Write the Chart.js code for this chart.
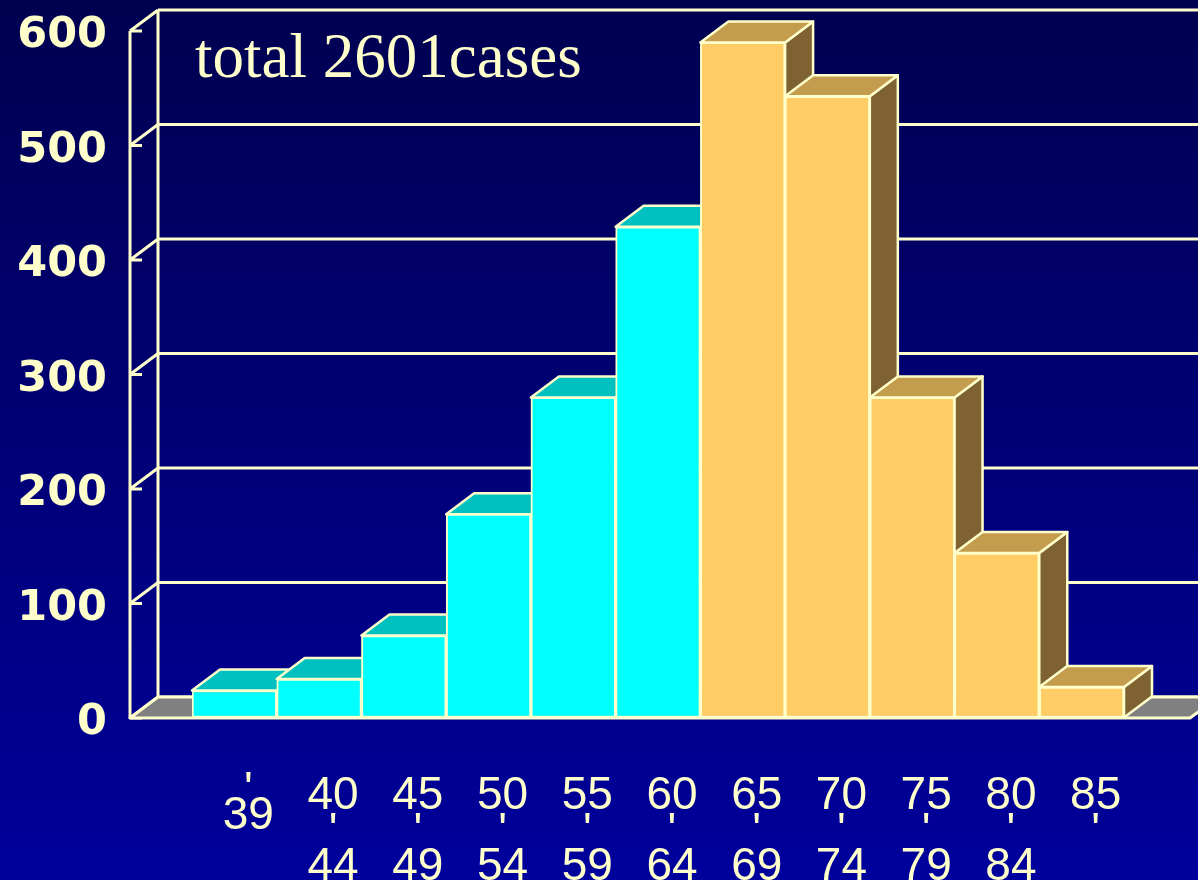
<!DOCTYPE html>
<html lang="en">
<head>
  <meta charset="UTF-8">
  <title>total 2601cases</title>
  <script src="https://cdn.jsdelivr.net/npm/chart.js"></script>
  <style>
    html, body { margin: 0; padding: 0; background: #000070; }
    #wrap { width: 1198px; height: 880px; }
  </style>
</head>
<body>
  <div id="wrap"><canvas id="ageChart" width="1198" height="880"></canvas></div>
  <script>
    // age groups (vertical style labels: number / tick / number)
    const ageLabels = [
      ["'", '39'], ['40', "'", '44'], ['45', "'", '49'], ['50', "'", '54'],
      ['55', "'", '59'], ['60', "'", '64'], ['65', "'", '69'], ['70', "'", '74'],
      ['75', "'", '79'], ['80', "'", '84'], ['85', "'"]
    ];
    const caseCounts = [24, 34, 72, 178, 280, 429, 590, 543, 280, 144, 27];
    const yTicks = [0, 100, 200, 300, 400, 500, 600];
    const titleText = 'total 2601cases';

    const LINE = '#ffffcc';
    const DX = 28, DY = -21;   // depth offset of the 3D look

    const faceColors = {
      young: { front: '#00ffff', top: '#00c0c0', side: '#008888' },
      old:   { front: '#ffcc66', top: '#c49c4e', side: '#7f6232' }
    };
    const colorsFor = i => (i < 6 ? faceColors.young : faceColors.old);

    function poly(ctx, pts, fill) {
      ctx.beginPath();
      ctx.moveTo(pts[0][0], pts[0][1]);
      for (let k = 1; k < pts.length; k++) ctx.lineTo(pts[k][0], pts[k][1]);
      ctx.closePath();
      if (fill) { ctx.fillStyle = fill; ctx.fill(); }
      ctx.stroke();
    }

    const depthPlugin = {
      id: 'depth',
      beforeDraw(chart) {
        const { ctx, width, height } = chart;
        const g = ctx.createLinearGradient(0, 0, 0, height);
        g.addColorStop(0, '#000050');
        g.addColorStop(1, '#00009c');
        ctx.save();
        ctx.fillStyle = g;
        ctx.fillRect(0, 0, width, height);
        ctx.restore();
      },
      beforeDatasetsDraw(chart) {
        const { ctx, chartArea: a, scales: { y } } = chart;
        const left = a.left - 62, right = a.right + 66;
        const y0 = y.getPixelForValue(y.min), yMax = y.getPixelForValue(y.max);
        ctx.save();
        ctx.strokeStyle = LINE;
        ctx.lineWidth = 3;
        ctx.lineJoin = 'round';

        // grid on back wall + side wall
        y.ticks.forEach(t => {
          const yy = y.getPixelForValue(t.value);
          ctx.beginPath();
          ctx.moveTo(left + DX, yy + DY); ctx.lineTo(chart.width, yy + DY);
          ctx.moveTo(left, yy); ctx.lineTo(left + DX, yy + DY);
          ctx.moveTo(left, yy); ctx.lineTo(left + 12, yy);
          ctx.stroke();
        });
        ctx.beginPath();
        ctx.moveTo(left, yMax); ctx.lineTo(left, y0);
        ctx.moveTo(left + DX, yMax + DY); ctx.lineTo(left + DX, y0 + DY);
        ctx.stroke();

        // floor
        poly(ctx, [[left, y0], [right, y0], [right + DX, y0 + DY], [left + DX, y0 + DY]], '#808080');

        // title
        ctx.fillStyle = LINE;
        ctx.font = '63px "Liberation Serif", serif';
        ctx.textBaseline = 'alphabetic';
        ctx.fillText(titleText, 195, 77);

        // side and top faces of every bar
        ctx.lineWidth = 2.5;
        chart.getDatasetMeta(0).data.forEach((bar, i) => {
          const p = bar.getProps(['x', 'y', 'base', 'width'], true);
          const l = p.x - p.width / 2, r = p.x + p.width / 2;
          const c = colorsFor(i);
          poly(ctx, [[r, p.y], [r + DX, p.y + DY], [r + DX, p.base + DY], [r, p.base]], c.side);
          poly(ctx, [[l, p.y], [l + DX, p.y + DY], [r + DX, p.y + DY], [r, p.y]], c.top);
        });
        ctx.restore();
      }
    };

    const ctx = document.getElementById('ageChart').getContext('2d');
    new Chart(ctx, {
      type: 'bar',
      data: {
        labels: ageLabels,
        datasets: [{
          data: caseCounts,
          backgroundColor: c => colorsFor(c.dataIndex).front,
          borderColor: LINE,
          borderWidth: 2,
          borderSkipped: false,
          categoryPercentage: 1,
          barPercentage: 1
        }]
      },
      options: {
        responsive: false,
        animation: false,
        layout: { padding: { top: 31, right: 74, left: 0, bottom: 0 } },
        plugins: { legend: { display: false }, tooltip: { enabled: false } },
        scales: {
          x: {
            grid: { display: false },
            border: { display: false },
            afterFit: s => { s.height = 162; },
            ticks: {
              color: LINE,
              autoSkip: false,
              maxRotation: 0,
              padding: 53,
              labelOffset: 14,
              // first label (two lines) sits a bit higher in the original
              font: c => ({
                family: '"Liberation Sans", Arial, sans-serif',
                size: 46,
                lineHeight: c.index === 0 ? 0.54 : 0.77
              })
            }
          },
          y: {
            min: 0,
            max: 600,
            // invisible tick marks keep the labels well left of the side wall
            grid: { display: true, drawOnChartArea: false, drawTicks: true, tickLength: 85, tickColor: 'rgba(0,0,0,0)' },
            border: { display: false },
            afterFit: s => { s.width = 192; },
            afterBuildTicks: s => { s.ticks = yTicks.map(v => ({ value: v })); },
            ticks: {
              color: LINE,
              padding: 0,
              // empty first line nudges the number a few px below the tick
              callback: v => ['', String(v)],
              font: { family: '"DejaVu Sans", sans-serif', weight: 'bold', size: 43, lineHeight: 0.24 }
            }
          }
        }
      },
      plugins: [depthPlugin]
    });
  </script>
</body>
</html>
